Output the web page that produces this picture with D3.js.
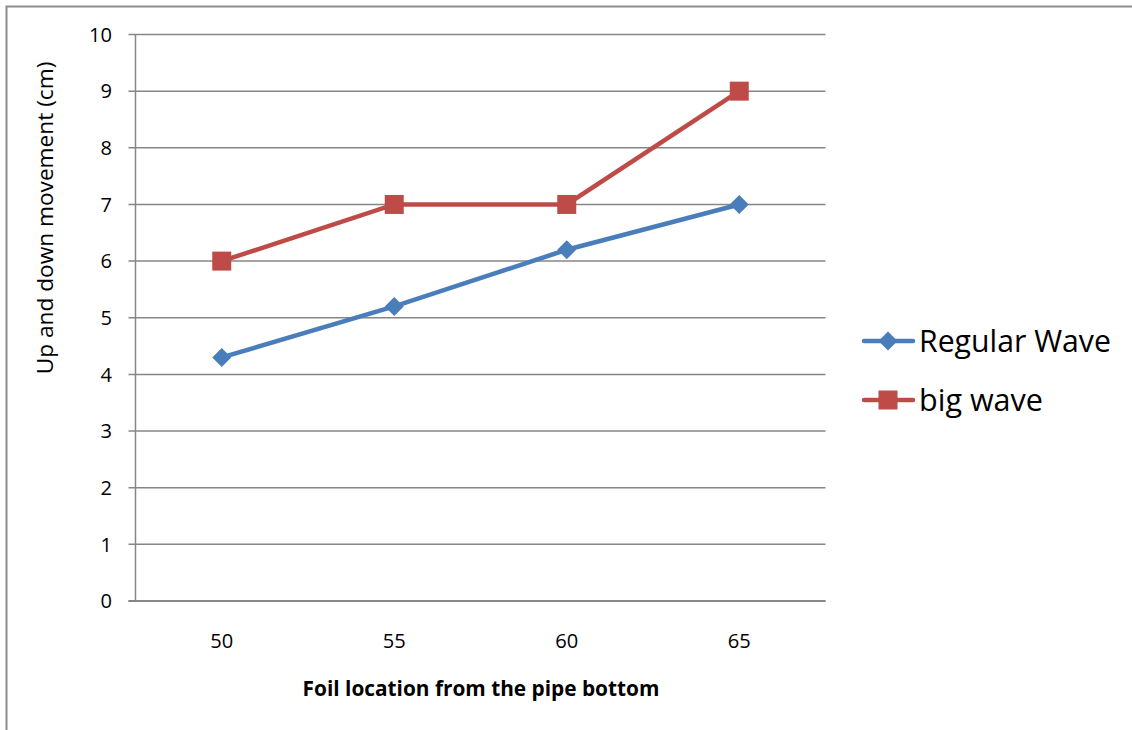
<!DOCTYPE html>
<html><head><meta charset="utf-8">
<script src="https://cdn.jsdelivr.net/npm/d3@7"></script>
<style>body{margin:0;background:#fff}svg{display:block}</style>
</head><body>
<svg id="c" width="1132" height="730"></svg>
<script>
const categories = ["50","55","60","65"];
const regularWave = [4.3, 5.2, 6.2, 7.0];
const bigWave = [6, 7, 7, 9];
const yTicks = [0,1,2,3,4,5,6,7,8,9,10];
const seriesNames = ["Regular Wave","big wave"];
const colors = ["#4A7EBB","#BE4B48"];

const svg = d3.select("#c");
const font = "'Open Sans', sans-serif";
function fit(sel, target){
  const n = sel.node(); const fs = parseFloat(sel.attr("font-size"));
  const w = n.getComputedTextLength();
  if (w>0) sel.attr("font-size", fs*target/w);
  return sel;
}
svg.append("rect").attr("x",6.5).attr("y",6.5).attr("width",1140).attr("height",740)
  .attr("fill","none").attr("stroke","#8c8c8c").attr("stroke-width",2);

const m = {l:135.5, r:825.5, t:34.5, b:601};
const x = d3.scaleBand().domain(categories).range([m.l,m.r]);
const y = d3.scaleLinear().domain([0,10]).range([m.b,m.t]);

const g = svg.append("g");
g.selectAll("line.grid").data(yTicks).join("line")
  .attr("x1",m.l-7).attr("x2",m.r).attr("y1",d=>y(d)).attr("y2",d=>y(d))
  .attr("stroke","#868686").attr("stroke-width",1.5);
g.append("line").attr("x1",m.l).attr("x2",m.l).attr("y1",m.t).attr("y2",m.b)
  .attr("stroke","#868686").attr("stroke-width",1.5);
g.append("line").attr("x1",m.l-7).attr("x2",m.r).attr("y1",m.b).attr("y2",m.b)
  .attr("stroke","#868686").attr("stroke-width",2);

// determine tick font size from width of "10"
const probe = svg.append("text").attr("font-family",font).attr("font-size",17).text("10");
fit(probe, 23);
const fsTick = parseFloat(probe.attr("font-size"));
probe.remove();

g.selectAll("text.yt").data(yTicks).join("text")
  .attr("x",m.l-23.5).attr("y",d=>y(d)).attr("dy","0.36em").attr("text-anchor","end")
  .attr("font-family",font).attr("font-size",fsTick).attr("fill","#000").text(d=>d);
g.selectAll("text.xt").data(categories).join("text")
  .attr("x",d=>x(d)+x.bandwidth()/2).attr("y",648).attr("text-anchor","middle")
  .attr("font-family",font).attr("font-size",fsTick).attr("fill","#000").text(d=>d);

fit(svg.append("text").attr("x",481).attr("y",696).attr("text-anchor","middle")
  .attr("font-family",font).attr("font-weight","bold").attr("font-size",18).text("Foil location from the pipe bottom"), 357);
fit(svg.append("text").attr("transform","translate(53,218) rotate(-90)").attr("text-anchor","middle")
  .attr("font-family",font).attr("font-size",18).text("Up and  down movement (cm)"), 313);

const line = d3.line().x((d,i)=>x(categories[i])+x.bandwidth()/2).y(d=>y(d));
const data = [regularWave, bigWave];
const diamond = (cx,cy,s)=>`M${cx},${cy-s}L${cx+s},${cy}L${cx},${cy+s}L${cx-s},${cy}Z`;
data.forEach((vals,si)=>{
  g.append("path").attr("d",line(vals)).attr("fill","none").attr("stroke",colors[si]).attr("stroke-width",4.5);
  vals.forEach((v,i)=>{
    const cx = x(categories[i])+x.bandwidth()/2, cy = y(v);
    if(si===0) g.append("path").attr("d",diamond(cx,cy,9.5)).attr("fill",colors[0]);
    else g.append("rect").attr("x",cx-9.5).attr("y",cy-9.5).attr("width",19).attr("height",19).attr("fill",colors[1]);
  });
});

const ly = [341, 400];
const legW = [192, 124];
seriesNames.forEach((n,si)=>{
  svg.append("line").attr("x1",864).attr("x2",913).attr("y1",ly[si]).attr("y2",ly[si])
    .attr("stroke",colors[si]).attr("stroke-width",4.5).attr("stroke-linecap","round");
  if(si===0) svg.append("path").attr("d",diamond(888,ly[si],9.5)).attr("fill",colors[0]);
  else svg.append("rect").attr("x",878.5).attr("y",ly[si]-9.5).attr("width",19).attr("height",19).attr("fill",colors[1]);
  const t = svg.append("text").attr("x",919).attr("y",ly[si]).attr("dy","0.35em")
    .attr("font-family",font).attr("font-size",26).text(n);
  fit(t, legW[si]);
});
</script>
</body></html>
